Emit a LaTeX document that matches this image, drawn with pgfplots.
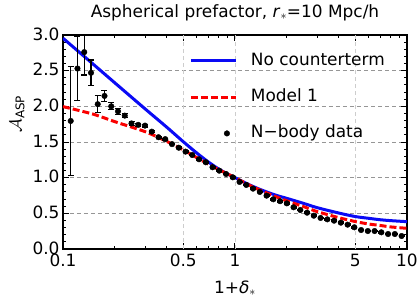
\documentclass[border=0pt]{standalone}
\usepackage{fontspec}
\setmainfont{DejaVu Sans}
\usepackage{pgfplots}
\pgfplotsset{compat=1.18}
\usepackage{pgfplotstable}
\definecolor{cblue}{RGB}{10,10,245}
\definecolor{cred}{RGB}{250,0,0}
\definecolor{gridgray}{RGB}{150,150,150}
\definecolor{vgridgray}{RGB}{205,205,205}
\pgfplotsset{
  longline/.style={legend image code/.code={\draw[##1] (0bp,0bp) -- (45bp,0bp);}},
  dotleg/.style={legend image code/.code={\draw[mark repeat=2, mark phase=2, ##1] plot coordinates {(0bp,0bp) (36bp,0bp) (45bp,0bp)};}},
}

\pgfplotstableread{
x y e
0.1109 1.795 0.765
0.1214 2.53 0.45
0.1329 2.76 0.32
0.1455 2.47 0.18
0.1592 2.03 0.12
0.1743 2.146 0.08
0.1908 2.00 0.05
0.2088 1.93 0.04
0.2286 1.87 0.03
0.2502 1.76 0.025
0.2739 1.74 0.02
0.2998 1.73 0.02
0.3282 1.645 0.015
0.3592 1.567 0.012
0.3932 1.54 0.012
0.4304 1.47 0.01
0.4711 1.42 0.01
0.5157 1.365 0.01
0.5645 1.318 0.01
0.6179 1.258 0.01
0.6763 1.216 0.01
0.7403 1.146 0.01
0.8103 1.098 0.01
0.8870 1.052 0.01
0.9709 1.005 0.01
1.0628 0.94 0.01
1.1633 0.898 0.01
1.2734 0.846 0.01
1.3938 0.80 0.01
1.5257 0.748 0.01
1.6700 0.697 0.01
1.8280 0.67 0.01
2.0009 0.64 0.01
2.1902 0.585 0.01
2.3974 0.547 0.01
2.6242 0.509 0.01
2.8725 0.467 0.01
3.1442 0.435 0.01
3.4417 0.416 0.01
3.7673 0.397 0.01
4.1237 0.369 0.01
4.5138 0.341 0.01
4.9408 0.304 0.01
5.4082 0.266 0.01
5.9199 0.252 0.01
6.4799 0.252 0.01
7.0929 0.234 0.01
7.7639 0.21 0.01
8.4984 0.21 0.01
9.3024 0.182 0.01
}\nbody

\begin{document}
\begin{tikzpicture}[x=1bp,y=1bp]
\useasboundingbox (-63,-59) rectangle (356,249);
\begin{axis}[
  at={(0,0)}, anchor=south west,
  scale only axis, width=344bp, height=214bp,
  xmode=log, xmin=0.1, xmax=10, ymin=0, ymax=3,
  xtick={0.1,0.5,1,5,10}, xticklabels={0.1,0.5,1,5,10},
  minor xtick={0.2,0.3,0.4,0.6,0.7,0.8,0.9,2,3,4,6,7,8,9},
  ytick={0,0.5,1,1.5,2,2.5,3},
  yticklabels={0.0,0.5,1.0,1.5,2.0,2.5,3.0},
  minor ytick={0.1,0.2,0.3,0.4,0.6,0.7,0.8,0.9,1.1,1.2,1.3,1.4,1.6,1.7,1.8,1.9,2.1,2.2,2.3,2.4,2.6,2.7,2.8,2.9},
  /pgf/number format/assume math mode=true,
  tick label style={font=\fontsize{17}{17}\selectfont, black},
  xticklabel style={yshift=-1.5bp},
  yticklabel style={yshift=1bp},
  tick align=inside, major tick length=6bp, minor tick length=3.5bp,
  every tick/.style={black, line width=1bp},
  axis line style={black, line width=1.3bp},
  ymajorgrids,
  major grid style={gridgray, line width=0.9bp, dash pattern=on 4bp off 3bp},
  extra x ticks={0.5,1,5}, extra x tick labels={},
  extra x tick style={xmajorgrids=true, major tick length=0bp,
     major grid style={vgridgray, line width=0.8bp, dash pattern=on 4bp off 3bp}},
  legend style={draw=none, fill=none, at={(0.367,0.92)}, anchor=north west,
     font=\fontsize{17}{17}\selectfont, row sep=19.3bp, column sep=13.5bp,
     inner sep=0pt, nodes={inner sep=0pt, text height=13bp, text depth=4bp}},
  legend cell align=left,
  clip=true,
]
\addplot[cblue, line width=3bp, smooth, longline] coordinates {
(0.1,2.955) (0.15,2.59) (0.2,2.33) (0.3,1.965) (0.4,1.71) (0.5,1.505)
(0.6,1.345) (0.7,1.22) (0.8,1.125) (0.9,1.055) (1,1.0) (1.2,0.905)
(1.4,0.835) (1.7,0.76) (2,0.71) (2.5,0.64) (3,0.58) (4,0.505) (5,0.455)
(6,0.43) (7,0.41) (8,0.398) (10,0.383)};
\addlegendentry{No counterterm}
\addplot[cred, line width=3bp, smooth, dash pattern=on 7bp off 3bp, longline] coordinates {
(0.1,1.996) (0.15,1.89) (0.2,1.785) (0.3,1.645) (0.4,1.51) (0.5,1.39)
(0.6,1.28) (0.7,1.19) (0.8,1.115) (0.9,1.055) (1,1.0) (1.2,0.9)
(1.4,0.825) (1.7,0.74) (2,0.675) (2.5,0.595) (3,0.525) (4,0.44) (5,0.385)
(6,0.35) (7,0.33) (8,0.31) (10,0.29)};
\addlegendentry{Model 1}
\addplot[only marks, black, mark=*, mark size=2.8bp,
  mark options={fill=black, draw=black}, dotleg,
  error bars/.cd, y dir=both, y explicit,
  error bar style={line width=1.2bp, black},
  error mark options={rotate=90, mark size=3bp, line width=1.2bp, black},
  ] table[x=x, y=y, y error=e] {\nbody};
\addlegendentry{N\textminus body data}
\end{axis}
\node[anchor=base, font=\fontsize{17}{17}\selectfont] at (172,232)
  {Aspherical prefactor, \textit{r}$_\ast$=10 Mpc/h};
\node[anchor=base, font=\fontsize{17}{17}\selectfont] at (172,-44)
  {1+\textit{δ}$_\ast$};
\node[rotate=90, font=\fontsize{17}{17}\selectfont] at (-46,135)
  {$\mathcal{A}_{\hbox{\fontsize{12}{12}\selectfont ASP}}$};
\end{tikzpicture}
\end{document}
